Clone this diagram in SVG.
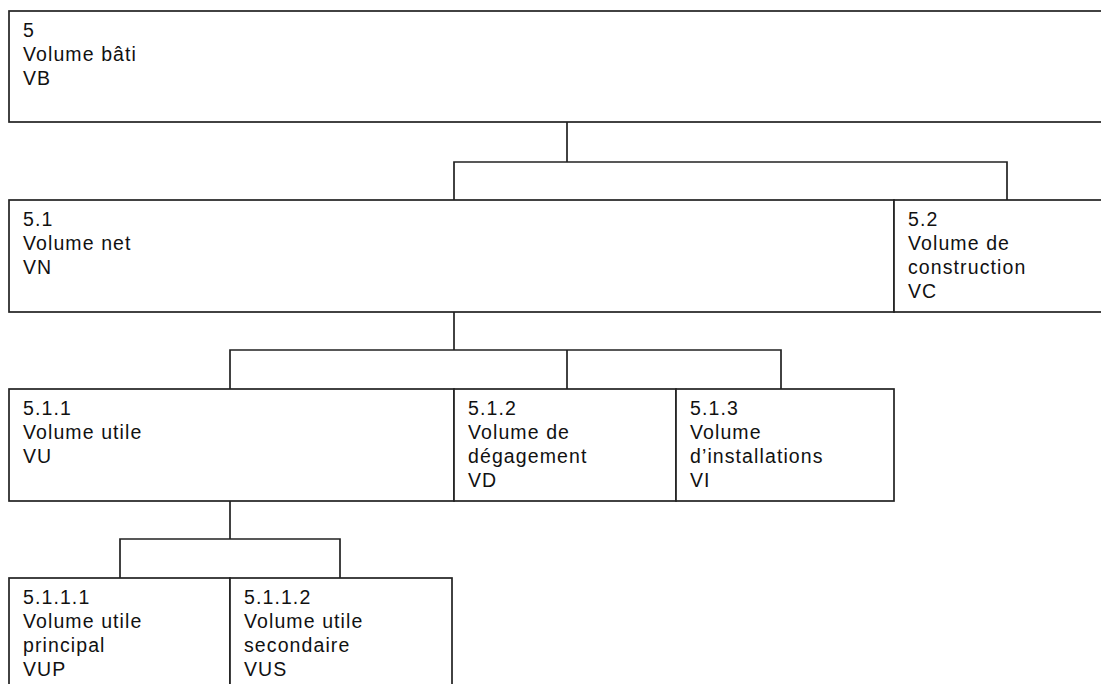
<svg xmlns="http://www.w3.org/2000/svg" width="1101" height="684" viewBox="0 0 1101 684">
<style>
.box{fill:#fff;stroke:#222;stroke-width:1.7}
.con{fill:none;stroke:#222;stroke-width:1.7}
text{font-family:"Liberation Sans",Arial,sans-serif;font-size:19.5px;letter-spacing:1.1px;fill:#111}
</style>
<rect width="1101" height="684" fill="#fff"/>
<g id="connectors">
<path class="con" d="M567,122V162M454,200V162H1007V200"/>
<path class="con" d="M454,312V350M230,389V350H781V389M567,350V389"/>
<path class="con" d="M230,501V539M120,578V539H340V578"/>
</g>
<g id="n5">
<rect class="box" x="9" y="11" width="1100" height="111"/>
<text x="23" y="37">5</text><text x="23" y="61">Volume bâti</text><text x="23" y="85">VB</text>
</g>
<g id="n5_1">
<rect class="box" x="9" y="200" width="885" height="112"/>
<text x="23" y="226">5.1</text><text x="23" y="250">Volume net</text><text x="23" y="274">VN</text>
</g>
<g id="n5_2">
<rect class="box" x="894" y="200" width="215" height="112"/>
<text x="908" y="226">5.2</text><text x="908" y="250">Volume de</text><text x="908" y="274">construction</text><text x="908" y="298">VC</text>
</g>
<g id="n5_1_1">
<rect class="box" x="9" y="389" width="445" height="112"/>
<text x="23" y="415">5.1.1</text><text x="23" y="439">Volume utile</text><text x="23" y="463">VU</text>
</g>
<g id="n5_1_2">
<rect class="box" x="454" y="389" width="222" height="112"/>
<text x="468" y="415">5.1.2</text><text x="468" y="439">Volume de</text><text x="468" y="463">dégagement</text><text x="468" y="487">VD</text>
</g>
<g id="n5_1_3">
<rect class="box" x="676" y="389" width="218" height="112"/>
<text x="690" y="415">5.1.3</text><text x="690" y="439">Volume</text><text x="690" y="463">d’installations</text><text x="690" y="487">VI</text>
</g>
<g id="n5_1_1_1">
<rect class="box" x="9" y="578" width="221" height="120"/>
<text x="23" y="604">5.1.1.1</text><text x="23" y="628">Volume utile</text><text x="23" y="652">principal</text><text x="23" y="676">VUP</text>
</g>
<g id="n5_1_1_2">
<rect class="box" x="230" y="578" width="222" height="120"/>
<text x="244" y="604">5.1.1.2</text><text x="244" y="628">Volume utile</text><text x="244" y="652">secondaire</text><text x="244" y="676">VUS</text>
</g>
</svg>
